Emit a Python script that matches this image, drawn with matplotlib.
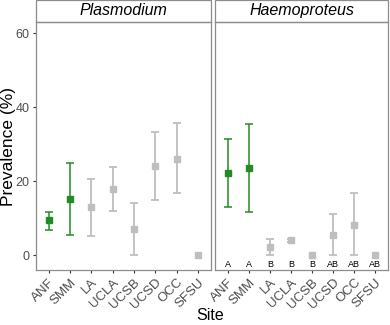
import numpy as np
import matplotlib
matplotlib.use("Agg")
import matplotlib.pyplot as plt

plt.rcParams['font.family'] = ['Liberation Sans', 'DejaVu Sans']

sites = ["ANF", "SMM", "LA", "UCLA", "UCSB", "UCSD", "OCC", "SFSU"]
highlight = [True, True, False, False, False, False, False, False]

# Plasmodium prevalence with CI
plas_mean = [9.4, 15.1, 13.0, 17.8, 7.0, 24.1, 26.1, 0.0]
plas_low = [6.9, 5.4, 5.2, 12.0, 0.0, 14.9, 16.7, 0.0]
plas_high = [11.7, 24.9, 20.6, 23.9, 14.1, 33.2, 35.8, 0.0]

# Haemoproteus prevalence with CI
haem_mean = [22.2, 23.6, 2.3, 4.1, 0.0, 5.5, 8.3, 0.0]
haem_low = [13.1, 11.7, 0.0, 3.6, 0.0, 0.0, 0.0, 0.0]
haem_high = [31.5, 35.4, 4.3, 4.5, 0.0, 11.1, 16.7, 0.0]
haem_letters = ["A", "A", "B", "B", "B", "AB", "AB", "AB"]

green = "#228B22"
grey = "#BEBEBE"
border = "#8C8C8C"

fig = plt.figure(figsize=(3.9, 3.25), dpi=100)
ax1 = fig.add_axes([0.092, 0.169, 0.449, 0.763])
ax2 = fig.add_axes([0.551, 0.169, 0.444, 0.763])

panels = [(ax1, "Plasmodium", plas_mean, plas_low, plas_high),
          (ax2, "Haemoproteus", haem_mean, haem_low, haem_high)]

x = np.arange(len(sites))
for ax, title, mean, low, high in panels:
    for i in x:
        c = green if highlight[i] else grey
        lw = 1.1 if highlight[i] else 1.3
        if high[i] > low[i]:
            ax.errorbar(i, mean[i], yerr=[[mean[i] - low[i]], [high[i] - mean[i]]],
                        fmt="none", ecolor=c, elinewidth=lw, capsize=3.2, capthick=lw)
        ax.plot(i, mean[i], marker="s", color=c, markersize=3.9, linestyle="none")
    ax.set_xlim(-0.6, len(sites) - 0.4)
    ax.set_ylim(-4, 63)
    ax.set_xticks(x)
    ax.set_xticklabels(sites, rotation=45, ha="right", rotation_mode="anchor",
                       fontsize=9.5, color="#4D4D4D")
    ax.set_yticks([0, 20, 40, 60])
    ax.tick_params(axis="both", length=2.5, width=0.8, color="#333333", pad=2)
    for s in ax.spines.values():
        s.set_color(border)
        s.set_linewidth(0.9)
    # strip on top of panel
    strip = plt.Rectangle((0, 1.0), 1, 0.09, transform=ax.transAxes, fc="white",
                          ec=border, lw=0.9, clip_on=False)
    ax.add_patch(strip)
    ax.text(0.5, 1.045, title, transform=ax.transAxes, ha="center", va="center",
            fontsize=11.5, style="italic")

ax1.set_yticklabels(["0", "20", "40", "60"], fontsize=9, color="#4D4D4D")
ax2.tick_params(axis="y", left=False, labelleft=False)

for i in x:
    ax2.text(i, -2.4, haem_letters[i], ha="center", va="center", fontsize=6.5)

fig.text(0.022, 0.55, "Prevalence (%)", rotation=90, ha="center", va="center",
         fontsize=12.5)
fig.text(0.54, 0.03, "Site", ha="center", va="center", fontsize=11.5)

fig.savefig("out.png", dpi=100)
